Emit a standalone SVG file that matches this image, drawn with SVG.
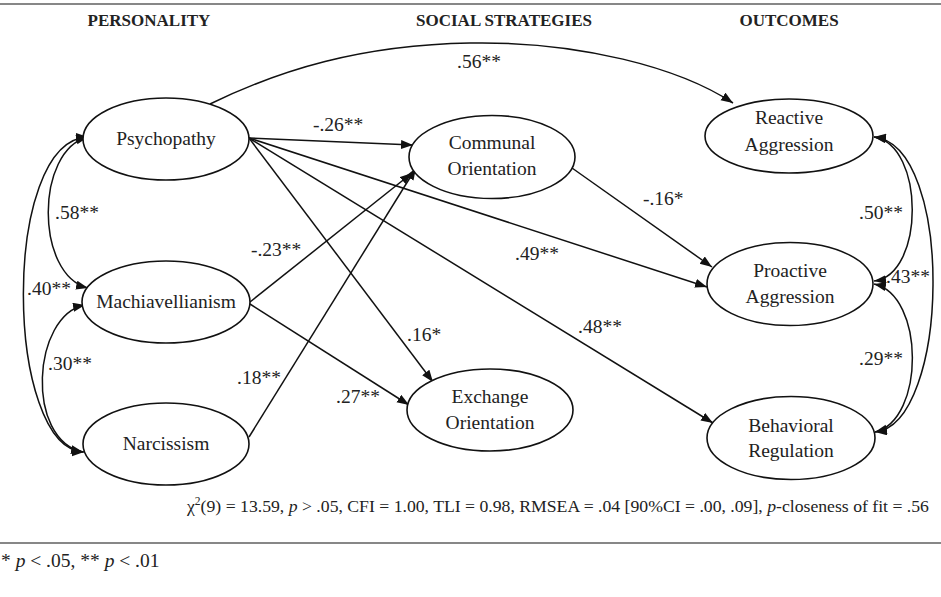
<svg xmlns="http://www.w3.org/2000/svg" width="941" height="597" viewBox="0 0 941 597">
<defs>
<marker id="ah" markerUnits="userSpaceOnUse" markerWidth="13" markerHeight="10" refX="12" refY="4.5" orient="auto-start-reverse">
<path d="M0,0 L12,4.5 L0,9 z" fill="#111"/>
</marker>
<style>
.n ellipse{fill:#fff;stroke:#111;stroke-width:1.6}
.t{font-family:"Liberation Serif","Times New Roman",serif;font-size:19.5px;fill:#222;text-anchor:middle}
.h{font-family:"Liberation Serif","Times New Roman",serif;font-size:17px;font-weight:bold;fill:#222;text-anchor:middle}
.l{font-family:"Liberation Serif","Times New Roman",serif;font-size:19.5px;fill:#222}
.e path{fill:none;stroke:#111;stroke-width:1.5}
.a{marker-end:url(#ah)}
.b{marker-start:url(#ah);marker-end:url(#ah)}
.f{font-family:"Liberation Serif","Times New Roman",serif;font-size:17.7px;fill:#222}
.fn{font-family:"Liberation Serif","Times New Roman",serif;font-size:19.5px;fill:#222}
</style>
</defs>
<rect width="941" height="597" fill="#fff"/>
<line x1="0" y1="4" x2="941" y2="4" stroke="#111" stroke-width="1.2"/>
<text class="h" x="149" y="26">PERSONALITY</text>
<text class="h" x="504" y="26">SOCIAL STRATEGIES</text>
<text class="h" x="789" y="26">OUTCOMES</text>

<g id="connectors" class="e">
<path class="a" d="M210,104 C280,70 360,45 470,43 C580,41 680,68 733,103"/>
<path class="a" d="M249,138 L413,145"/>
<path class="a" d="M249,138 L707,287"/>
<path class="a" d="M249,138 L713,423"/>
<path class="a" d="M249,138 L433,382"/>
<path class="a" d="M250,302 L412,173"/>
<path class="a" d="M250,304 L409,405"/>
<path class="a" d="M249,437 L416,168"/>
<path class="a" d="M572,168 L712,267"/>
<path class="b" d="M88,137 C35,150 35,275 88,288"/>
<path class="b" d="M88,137 C0,140 5,450 84,452"/>
<path class="b" d="M85,305 C32,315 25,440 83,452"/>
<path class="b" d="M874,137 C925,145 925,275 874,281"/>
<path class="b" d="M874,137 C955,145 950,425 875,432"/>
<path class="b" d="M874,284 C925,295 925,420 875,432"/>
</g>

<g id="psychopathy" class="n"><ellipse cx="166" cy="139" rx="83" ry="41"/><text class="t" x="166" y="145">Psychopathy</text></g>
<g id="machiavellianism" class="n"><ellipse cx="166" cy="302" rx="84" ry="41"/><text class="t" x="166" y="308">Machiavellianism</text></g>
<g id="narcissism" class="n"><ellipse cx="166" cy="444" rx="83" ry="41"/><text class="t" x="166" y="450">Narcissism</text></g>
<g id="communal" class="n"><ellipse cx="492" cy="157" rx="83" ry="41.5"/><text class="t" x="492" y="149">Communal</text><text class="t" x="492" y="175">Orientation</text></g>
<g id="exchange" class="n"><ellipse cx="490" cy="410" rx="83" ry="41"/><text class="t" x="490" y="403">Exchange</text><text class="t" x="490" y="429">Orientation</text></g>
<g id="reactive" class="n"><ellipse cx="789" cy="136" rx="84" ry="37"/><text class="t" x="789" y="124">Reactive</text><text class="t" x="789" y="151">Aggression</text></g>
<g id="proactive" class="n"><ellipse cx="790" cy="284" rx="83" ry="41.5"/><text class="t" x="790" y="277">Proactive</text><text class="t" x="790" y="303">Aggression</text></g>
<g id="behavioral" class="n"><ellipse cx="791" cy="438" rx="84" ry="41.5"/><text class="t" x="791" y="432">Behavioral</text><text class="t" x="791" y="457">Regulation</text></g>

<g id="labels">
<text class="l" x="457" y="68">.56**</text>
<text class="l" x="313" y="131">-.26**</text>
<text class="l" x="251" y="256">-.23**</text>
<text class="l" x="55" y="219">.58**</text>
<text class="l" x="27" y="295">.40**</text>
<text class="l" x="48" y="370">.30**</text>
<text class="l" x="237" y="384">.18**</text>
<text class="l" x="407" y="341">.16*</text>
<text class="l" x="336" y="403">.27**</text>
<text class="l" x="515" y="260">.49**</text>
<text class="l" x="578" y="333">.48**</text>
<text class="l" x="643" y="205">-.16*</text>
<text class="l" x="859" y="219">.50**</text>
<text class="l" x="886" y="283">.43**</text>
<text class="l" x="859" y="365">.29**</text>
</g>

<text class="f" x="187" y="512">χ<tspan font-size="11.5" dy="-7">2</tspan><tspan dy="7">(9) = 13.59, </tspan><tspan font-style="italic">p</tspan> &gt; .05, CFI = 1.00, TLI = 0.98, RMSEA = .04 [90%CI = .00, .09], <tspan font-style="italic">p</tspan>-closeness of fit = .56</text>
<line x1="0" y1="543" x2="941" y2="543" stroke="#111" stroke-width="1.2"/>
<text class="fn" x="1" y="567">* <tspan font-style="italic">p</tspan> &lt; .05, ** <tspan font-style="italic">p</tspan> &lt; .01</text>
</svg>
